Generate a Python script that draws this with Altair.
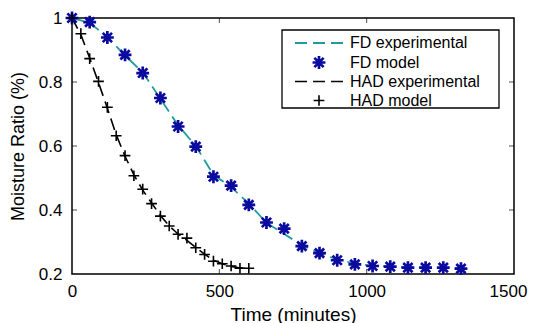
import altair as alt
import pandas as pd

# ---- data ----
fd_time = [0, 60, 120, 180, 240, 300, 360, 420, 480, 540, 600, 660, 720, 780,
           840, 900, 960, 1020, 1080, 1140, 1200, 1260, 1320]
fd_experimental = [1.0, 0.985, 0.940, 0.883, 0.830, 0.748, 0.665, 0.600, 0.510,
                   0.472, 0.420, 0.360, 0.325, 0.290, 0.265, 0.245, 0.232, 0.226,
                   0.223, 0.221, 0.220, 0.219, 0.218]
fd_model = [1.0, 0.987, 0.939, 0.885, 0.828, 0.750, 0.661, 0.598, 0.504, 0.476,
            0.416, 0.361, 0.342, 0.287, 0.265, 0.243, 0.230, 0.225, 0.223, 0.220,
            0.220, 0.220, 0.217]

had_time = [0, 30, 60, 90, 120, 150, 180, 210, 240, 270, 300, 330, 360, 390,
            420, 450, 480, 510, 540, 570, 600]
had_experimental = [1.0, 0.948, 0.875, 0.798, 0.718, 0.635, 0.568, 0.510, 0.462,
                    0.422, 0.383, 0.350, 0.325, 0.305, 0.283, 0.262, 0.243, 0.232,
                    0.224, 0.219, 0.217]
had_model = [1.0, 0.951, 0.873, 0.802, 0.721, 0.632, 0.570, 0.507, 0.465, 0.420,
             0.381, 0.350, 0.324, 0.312, 0.282, 0.261, 0.240, 0.232, 0.225, 0.218,
             0.218]

x_ticks = [0, 500, 1000, 1500]
y_ticks = [0.2, 0.4, 0.6, 0.8, 1.0]
legend_labels = ["FD experimental", "FD model", "HAD experimental", "HAD model"]

x_title = "Time (minutes)"
y_title = "Moisture Ratio (%)"

FONT = "Liberation Sans"
TEAL = "#1f9c9c"
NAVY = "#0a0a9e"

W, H = 442, 256

fd_df = pd.DataFrame({"t": fd_time, "exp": fd_experimental, "model": fd_model})
had_df = pd.DataFrame({"t": had_time, "exp": had_experimental, "model": had_model})

x_scale = alt.Scale(domain=[0, 1500], nice=False, zero=False)
y_scale = alt.Scale(domain=[0.2, 1.0], nice=False, zero=False)

x_axis = alt.Axis(values=x_ticks, format="d", title=x_title, ticks=False,
                  domain=False, grid=False, labelFlush=False, labelPadding=9,
                  labelOffset={"condition": {"test": "datum.value === 1500",
                                             "value": -6}, "value": 0},
                  labelFontSize=17, labelFont=FONT, labelColor="black",
                  titleFontSize=19, titleFont=FONT, titleFontWeight="normal",
                  titleColor="black", titleX=W / 2, titleY=40,
                  titleBaseline="middle")
y_axis = alt.Axis(values=y_ticks, format="~g", title=y_title, ticks=False,
                  domain=False, grid=False, labelFlush=False, labelPadding=10,
                  labelFontSize=17, labelFont=FONT, labelColor="black",
                  titleFontSize=18, titleFont=FONT, titleFontWeight="normal",
                  titleColor="black", titleX=-54, titleY=H / 2,
                  titleBaseline="middle")


def X(field):
    return alt.X(field, type="quantitative", scale=x_scale, axis=x_axis)


def Y(field):
    return alt.Y(field, type="quantitative", scale=y_scale, axis=y_axis)


STAR = "M-1,0L1,0M0,-1L0,1M-0.72,-0.72L0.72,0.72M-0.72,0.72L0.72,-0.72"
PLUS = "M-1,0L1,0M0,-1L0,1"
DASH = [12, 6]

fd_line = alt.Chart(fd_df).mark_line(color=TEAL, strokeWidth=1.8,
                                     strokeDash=DASH).encode(x=X("t"), y=Y("exp"))
had_line = alt.Chart(had_df).mark_line(color="black", strokeWidth=1.6,
                                       strokeDash=DASH).encode(x=X("t"), y=Y("exp"))
fd_pts = alt.Chart(fd_df).mark_point(shape=STAR, filled=False, color=NAVY,
                                     strokeWidth=2.7, size=165, opacity=1).encode(
    x=X("t"), y=Y("model"))
had_pts = alt.Chart(had_df).mark_point(shape=PLUS, filled=False, color="black",
                                       strokeWidth=1.6, size=115, opacity=1).encode(
    x=X("t"), y=Y("model"))

# inward ticks on the box
xt = pd.DataFrame({"v": x_ticks[1:-1]})
yt = pd.DataFrame({"v": y_ticks[1:-1]})
tick_b = alt.Chart(xt).mark_tick(orient="vertical", color="black", thickness=1,
                                 size=5).encode(x=X("v"), y=alt.value(H - 2.5))
tick_t = alt.Chart(xt).mark_tick(orient="vertical", color="black", thickness=1,
                                 size=5).encode(x=X("v"), y=alt.value(2.5))
tick_l = alt.Chart(yt).mark_tick(orient="horizontal", color="black", thickness=1,
                                 size=5).encode(y=Y("v"), x=alt.value(2.5))
tick_r = alt.Chart(yt).mark_tick(orient="horizontal", color="black", thickness=1,
                                 size=5).encode(y=Y("v"), x=alt.value(W - 2.5))

# legend (drawn inside the plot, top right)
one = alt.Data(values=[{}])
lx0, lx1, ly0, ly1 = 210, 427, 12, 90
rows = [25, 44.5, 63.5, 82.5]
sym_x0, sym_x1, sym_c, txt_x = 223, 276, 247, 278

layers = [fd_line, had_line, fd_pts, had_pts, tick_b, tick_t, tick_l, tick_r]
layers.append(alt.Chart(one).mark_rect(fill="white", stroke="black",
                                       strokeWidth=1.3).encode(
    x=alt.value(lx0), x2=alt.value(lx1), y=alt.value(ly0), y2=alt.value(ly1)))
layers.append(alt.Chart(one).mark_rule(color=TEAL, strokeWidth=1.8,
                                       strokeDash=DASH).encode(
    x=alt.value(sym_x0), x2=alt.value(sym_x1), y=alt.value(rows[0])))
layers.append(alt.Chart(one).mark_point(shape=STAR, filled=False, color=NAVY,
                                        strokeWidth=2.7, size=165, opacity=1).encode(
    x=alt.value(sym_c), y=alt.value(rows[1])))
layers.append(alt.Chart(one).mark_rule(color="black", strokeWidth=1.6,
                                       strokeDash=DASH).encode(
    x=alt.value(sym_x0), x2=alt.value(sym_x1), y=alt.value(rows[2])))
layers.append(alt.Chart(one).mark_point(shape=PLUS, filled=False, color="black",
                                        strokeWidth=1.6, size=115, opacity=1).encode(
    x=alt.value(sym_c), y=alt.value(rows[3])))
for lab, ry in zip(legend_labels, rows):
    layers.append(alt.Chart(one).mark_text(align="left", baseline="middle",
                                           font=FONT, fontSize=16,
                                           color="black").encode(
        x=alt.value(txt_x), y=alt.value(ry), text=alt.value(lab)))

chart = alt.layer(*layers).properties(
    width=W, height=H,
    padding={"left": 64, "top": 10, "right": 14, "bottom": 50},
    autosize=alt.AutoSizeParams(type="none"),
    background="white",
).configure_view(stroke="black", strokeWidth=1.5)

chart.save("out.html", embed_options={"renderer": "svg", "actions": False})
